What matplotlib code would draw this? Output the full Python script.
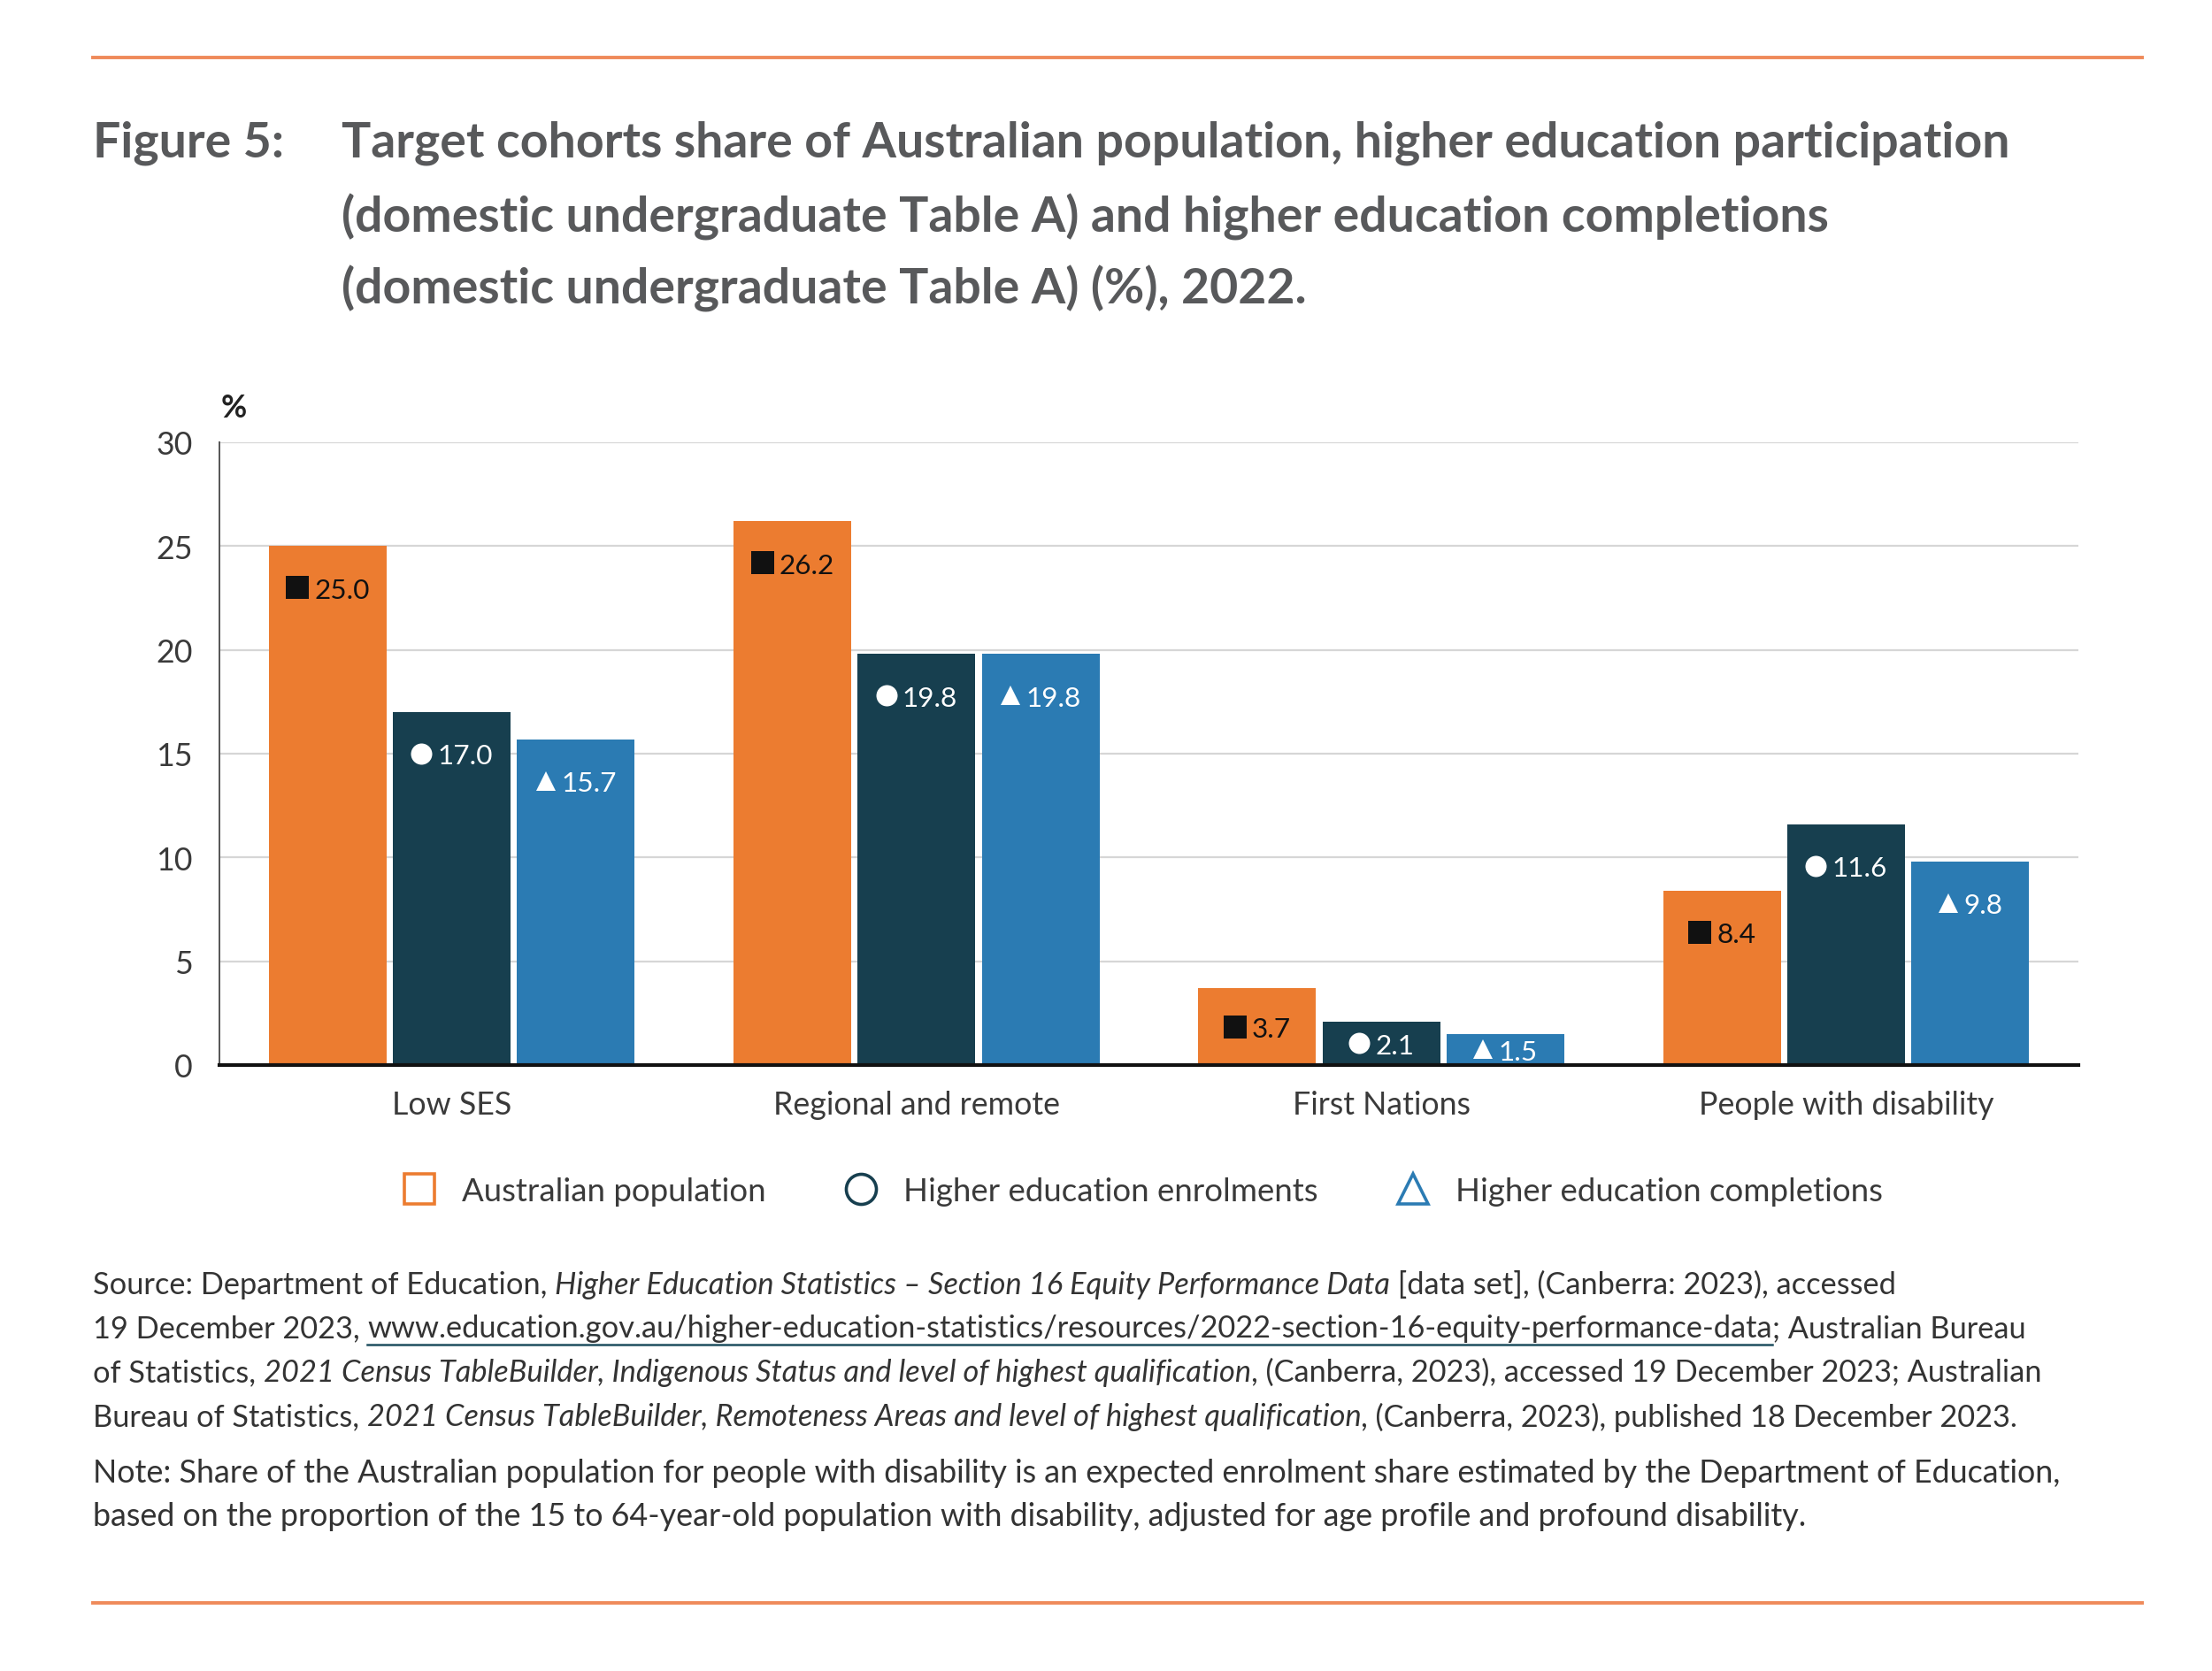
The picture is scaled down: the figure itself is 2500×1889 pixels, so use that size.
import matplotlib
matplotlib.use("Agg")
import matplotlib.pyplot as plt
from matplotlib.lines import Line2D
from matplotlib.transforms import offset_copy
import numpy as np

plt.rcParams['font.family'] = ['Lato', 'DejaVu Sans']

# ---------------- data ----------------
categories = ["Low SES", "Regional and remote", "First Nations", "People with disability"]
series_names = ["Australian population", "Higher education enrolments", "Higher education completions"]
population = [25.0, 26.2, 3.7, 8.4]
enrolments = [17.0, 19.8, 2.1, 11.6]
completions = [15.7, 19.8, 1.5, 9.8]
yticks = [0, 5, 10, 15, 20, 25, 30]

colors = ["#EC7C30", "#173F4F", "#2B7BB3"]
label_colors = ["#111111", "white", "white"]
markers = ["s", "o", "^"]
marker_px = [26, 24, 23]

W, H = 2500, 1890
fig = plt.figure(figsize=(W / 100, H / 100), dpi=100)
fig.patch.set_facecolor("white")
renderer = fig.canvas.get_renderer()


def fx(x):
    return x / W


def fy(y):
    return 1 - y / H


def text_width(s, **kw):
    t = fig.text(0, 0, "x" + s + "x", **kw)
    w1 = t.get_window_extent(renderer).width
    t.remove()
    t = fig.text(0, 0, "xx", **kw)
    w2 = t.get_window_extent(renderer).width
    t.remove()
    return w1 - w2


def fit_size(s, target, **kw):
    w = text_width(s, fontsize=20, **kw)
    return 20 * target / w


title_col = "#58595B"
text_col = "#3A3A3A"
orange_line = "#EF8A5A"

# ---------------- rules ----------------
fig.add_artist(Line2D([fx(105), fx(2421)], [fy(66), fy(66)], color=orange_line, lw=2.8))
fig.add_artist(Line2D([fx(105), fx(2421)], [fy(1813), fy(1813)], color=orange_line, lw=2.8))

# ---------------- title ----------------
title_lines = [
    "Target cohorts share of Australian population, higher education participation",
    "(domestic undergraduate Table A) and higher education completions",
    "(domestic undergraduate Table A) (%), 2022.",
]
tsize = fit_size(title_lines[0], 1882, fontweight="bold")
fig.text(fx(105), fy(162), "Figure 5:", fontsize=tsize, fontweight="bold", color=title_col,
         ha="left", va="center")
for ln, yy in zip(title_lines, [162, 245, 326]):
    fig.text(fx(386), fy(yy), ln, fontsize=tsize, fontweight="bold", color=title_col,
             ha="left", va="center")

# ---------------- axes ----------------
ax = fig.add_axes([fx(248), fy(1205), fx(2349) - fx(248), fy(501) - fy(1205)])
ax.set_xlim(-0.5, 3.5)
ax.set_ylim(0, 30)

cat_size = fit_size("People with disability", 336)
lab_size = fit_size("25.0", 62)

step = 0.267
width = 0.253
gap_px = 6
x = np.arange(len(categories))
all_series = [population, enrolments, completions]
for j, vals in enumerate(all_series):
    xs = x + (j - 1) * step
    ax.bar(xs, vals, width=width, color=colors[j], zorder=3, label=series_names[j])
    for xi, v in zip(xs, vals):
        ylab = max(v - 2.0, v / 2)
        s = f"{v:.1f}"
        tw = text_width(s, fontsize=lab_size)
        m = marker_px[j]
        total = m + gap_px + tw
        mk_off = -total / 2 + m / 2
        tx_off = -total / 2 + m + gap_px
        ax.plot([xi], [ylab], ls="none", marker=markers[j], ms=m * 0.72, mew=0,
                color=label_colors[j], zorder=4,
                transform=offset_copy(ax.transData, fig=fig, x=mk_off, y=0, units="dots"))
        ax.text(xi, ylab, s, ha="left", va="center_baseline", fontsize=lab_size,
                color=label_colors[j], zorder=4,
                transform=offset_copy(ax.transData, fig=fig, x=tx_off, y=0, units="dots"))

ax.set_yticks(yticks)
ax.set_yticklabels([str(t) for t in yticks])
ax.set_xticks(x)
ax.set_xticklabels(categories)
ax.tick_params(axis="both", length=0, labelsize=cat_size, labelcolor=text_col)
ax.tick_params(axis="y", pad=22)
ax.tick_params(axis="x", pad=20)
ax.yaxis.grid(True, color="#D6D6D6", lw=1.6, zorder=0)
ax.set_axisbelow(True)
for s in ["top", "right"]:
    ax.spines[s].set_visible(False)
ax.spines["left"].set_color("#555555")
ax.spines["left"].set_linewidth(1.4)
ax.spines["bottom"].set_color("#111111")
ax.spines["bottom"].set_linewidth(3)
ax.spines["bottom"].set_zorder(5)

fig.text(fx(264), fy(462), "%", fontsize=cat_size, fontweight="bold", color="#222222",
         ha="center", va="center")

# ---------------- legend ----------------
leg_size = fit_size("Higher education completions", 483)
handles = [Line2D([], [], ls="none", marker=markers[j], mfc="white", mec=colors[j],
                  mew=2.6, ms=24.5) for j in range(3)]
fig.legend(handles, series_names, loc="center", bbox_to_anchor=(0.516, fy(1347)), ncol=3,
           frameon=False, fontsize=leg_size, handlelength=1.2, handletextpad=0.7,
           columnspacing=2.35, labelcolor=text_col)

# ---------------- source / note ----------------
src_col = "#333333"
link_col = "#1F4E5F"

src_lines = [
    [("Source: Department of Education, ", "normal", False),
     ("Higher Education Statistics \u2013 Section 16 Equity Performance Data", "italic", False),
     (" [data set], (Canberra: 2023), accessed", "normal", False)],
    [("19 December 2023, ", "normal", False),
     ("www.education.gov.au/higher-education-statistics/resources/2022-section-16-equity-performance-data",
      "normal", True),
     ("; Australian Bureau", "normal", False)],
    [("of Statistics, ", "normal", False),
     ("2021 Census TableBuilder, Indigenous Status and level of highest qualification", "italic", False),
     (", (Canberra, 2023), accessed 19 December 2023; Australian", "normal", False)],
    [("Bureau of Statistics, ", "normal", False),
     ("2021 Census TableBuilder, Remoteness Areas and level of highest qualification", "italic", False),
     (", (Canberra, 2023), published 18 December 2023.", "normal", False)],
]
note_lines = [
    [("Note: Share of the Australian population for people with disability is an expected enrolment "
      "share estimated by the Department of Education,", "normal", False)],
    [("based on the proportion of the 15 to 64-year-old population with disability, adjusted for age "
      "profile and profound disability.", "normal", False)],
]


def line_width(segments, size):
    return sum(text_width(s, fontsize=size, style=st) for s, st, _ in segments)


src_size = 20 * 2204 / line_width(src_lines[2], 20)
note_size = 20 * 2229 / line_width(note_lines[0], 20)


def draw_line(segments, y, size):
    xpix = 105
    for s, style, underline in segments:
        kw = dict(fontsize=size, style=style)
        fig.text(fx(xpix), fy(y), s, color=src_col, ha="left", va="center", **kw)
        w = text_width(s, **kw)
        if underline:
            fig.add_artist(Line2D([fx(xpix), fx(xpix + w)], [fy(y + 19), fy(y + 19)],
                                  color=link_col, lw=1.8))
        xpix += w


for segs, yy in zip(src_lines, [1453, 1502, 1552, 1602]):
    draw_line(segs, yy, src_size)
for segs, yy in zip(note_lines, [1666, 1715]):
    draw_line(segs, yy, note_size)

fig.savefig("out.png", dpi=100, facecolor="white")
